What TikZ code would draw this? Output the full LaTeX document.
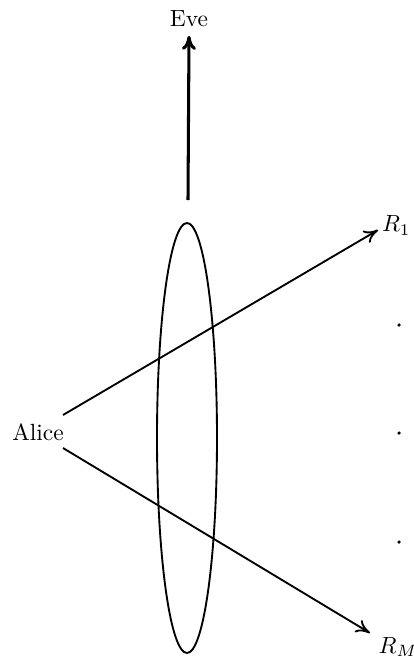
\documentclass[tikz,border=0pt]{standalone}
\usetikzlibrary{arrows.meta,positioning}

\begin{document}
\begin{tikzpicture}[x=0.015cm,y=-0.015cm,line width=.8pt,>={To[length=6pt,width=6pt]}]
  \useasboundingbox (0,0) rectangle (414,662);
  % people
  \node (alice) at (38,432) {Alice};
  \node (eve) at (189,19) {Eve};
  \coordinate (a1) at (63,415);
  \coordinate (a2) at (63,448);
  \coordinate (t1) at (378,230);
  \coordinate (t2) at (370,633);
  \node[above right=-6pt and -2pt of t1] (r1) {\(R_1\)};
  \node[below right=-2pt and 0pt of t2] (rm) {\(R_M\)};
  % the channel
  \draw (187,438) ellipse [x radius=.45cm, y radius=3.225cm];
  \draw[->] (a1) -- (t1);
  \draw[->] (a2) -- (t2);
  \coordinate (e0) at (188,200);
  \draw[->,line width=1.3pt] (e0) -- (eve.south);
  \foreach \y in {325,433,542}
    \fill (399,\y) circle [radius=.75pt];
\end{tikzpicture}
\end{document}
